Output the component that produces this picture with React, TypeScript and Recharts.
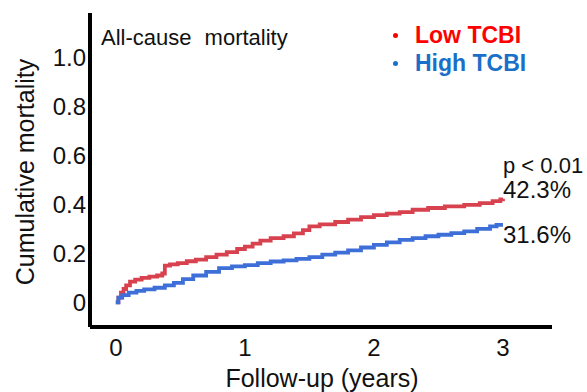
import React from 'react'
import { LineChart, Line, XAxis, YAxis, LabelList } from 'recharts'

// follow-up time (years) and cumulative mortality
const lowTime = [0, 0.02, 0.04, 0.06, 0.08, 0.11, 0.15, 0.2, 0.26, 0.32, 0.36, 0.38, 0.42, 0.48, 0.55, 0.62, 0.7, 0.78, 0.86, 0.94, 1.0, 1.06, 1.12, 1.2, 1.3, 1.38, 1.45, 1.5, 1.58, 1.7, 1.8, 1.9, 2.0, 2.1, 2.2, 2.3, 2.42, 2.55, 2.7, 2.82, 2.92, 2.98, 3.0]
const lowRisk = [0, 0.02, 0.04, 0.055, 0.07, 0.085, 0.093, 0.1, 0.105, 0.11, 0.118, 0.15, 0.155, 0.16, 0.168, 0.175, 0.185, 0.195, 0.205, 0.218, 0.228, 0.24, 0.252, 0.262, 0.27, 0.282, 0.295, 0.31, 0.318, 0.328, 0.338, 0.348, 0.356, 0.362, 0.368, 0.378, 0.385, 0.392, 0.398, 0.405, 0.413, 0.42, 0.423]

const highTime = [0, 0.02, 0.05, 0.1, 0.16, 0.22, 0.3, 0.38, 0.45, 0.52, 0.6, 0.7, 0.8, 0.9, 1.0, 1.1, 1.2, 1.3, 1.4, 1.5, 1.6, 1.7, 1.8, 1.9, 2.0, 2.1, 2.2, 2.3, 2.4, 2.5, 2.6, 2.7, 2.8, 2.9, 2.95, 3.0]
const highRisk = [0, 0.02, 0.03, 0.04, 0.047, 0.053, 0.06, 0.07, 0.08, 0.095, 0.11, 0.125, 0.14, 0.147, 0.152, 0.16, 0.167, 0.172, 0.178, 0.185, 0.195, 0.203, 0.212, 0.224, 0.235, 0.245, 0.255, 0.262, 0.27, 0.276, 0.283, 0.29, 0.3, 0.31, 0.316, 0.316]

const xTicks = [0, 1, 2, 3]
const yTicks = [0, 0.2, 0.4, 0.6, 0.8, 1.0]

const lowLabel = '42.3%'
const highLabel = '31.6%'

const FONT = '"Liberation Sans", Arial, sans-serif'
const RED = '#d8424f'
const BLUE = '#3e6fd8'

const lowData = lowTime.map((t, i) => ({ t, v: lowRisk[i] }))
const highData = highTime.map((t, i) => ({ t, v: highRisk[i] }))

const legendRows = [
  { name: 'Low TCBI', color: '#ff0000' },
  { name: 'High TCBI', color: '#1a70c8' },
]

function endLabel(text: string, last: number, dy: number) {
  return (props: any) => {
    if (props.index !== last) return null
    return (
      <text x={props.x} y={props.y + dy} fontSize={24} fill="#111" fontFamily={FONT}>
        {text}
      </text>
    )
  }
}

export default function App() {
  return (
    <div style={{ position: 'absolute', left: 0, top: 0, width: 587, height: 392, background: '#fff', fontFamily: FONT }}>
      <LineChart width={587} height={392} margin={{ top: 13, right: 35, bottom: 0, left: 0 }}>
        <XAxis
          type="number"
          dataKey="t"
          domain={[-0.2, 3.38]}
          ticks={xTicks}
          allowDataOverflow
          axisLine={{ stroke: '#000', strokeWidth: 4 }}
          tickLine={false}
          tickSize={0}
          tickMargin={12}
          height={65}
          tick={{ fontSize: 24, fill: '#111', fontFamily: FONT }}
          label={{
            content: () => (
              <text x={322} y={387} textAnchor="middle" fontSize={25} fill="#111" fontFamily={FONT}>
                Follow-up (years)
              </text>
            ),
          }}
        />
        <YAxis
          type="number"
          domain={[-0.1, 1.18]}
          ticks={yTicks}
          allowDataOverflow
          width={90}
          axisLine={{ stroke: '#000', strokeWidth: 4 }}
          tickLine={false}
          tickSize={0}
          tickMargin={4}
          tickFormatter={(v: number) => (v === 0 ? '0' : v.toFixed(1))}
          tick={{ fontSize: 24, fill: '#111', fontFamily: FONT }}
          label={{
            content: () => (
              <text
                x={34}
                y={172}
                textAnchor="middle"
                transform="rotate(-90 34 172)"
                fontSize={25}
                fill="#111"
                fontFamily={FONT}
              >
                Cumulative mortality
              </text>
            ),
          }}
        />
        <Line
          data={lowData}
          dataKey="v"
          type="stepAfter"
          stroke={RED}
          strokeWidth={3.8}
          dot={false}
          isAnimationActive={false}
        >
          <LabelList dataKey="v" content={endLabel(lowLabel, lowData.length - 1, -1)} />
        </Line>
        <Line
          data={highData}
          dataKey="v"
          type="stepAfter"
          stroke={BLUE}
          strokeWidth={3.8}
          dot={false}
          isAnimationActive={false}
        >
          <LabelList dataKey="v" content={endLabel(highLabel, highData.length - 1, 18)} />
        </Line>
      </LineChart>
      <div style={{ position: 'absolute', left: 101, top: 25, fontSize: 22, color: '#111', wordSpacing: 7, whiteSpace: 'nowrap' }}>
        All-cause mortality
      </div>
      <div style={{ position: 'absolute', left: 503, top: 153, fontSize: 22, color: '#111', whiteSpace: 'nowrap' }}>
        p &lt; 0.01
      </div>
      <div style={{ position: 'absolute', left: 393, top: 21 }}>
        {legendRows.map((r) => (
          <div key={r.name} style={{ display: 'flex', alignItems: 'center', height: 28 }}>
            <span style={{ width: 5, height: 5, borderRadius: 3, background: r.color, marginRight: 17 }} />
            <span style={{ color: r.color, fontWeight: 'bold', fontSize: 23, whiteSpace: 'nowrap' }}>{r.name}</span>
          </div>
        ))}
      </div>
    </div>
  )
}
